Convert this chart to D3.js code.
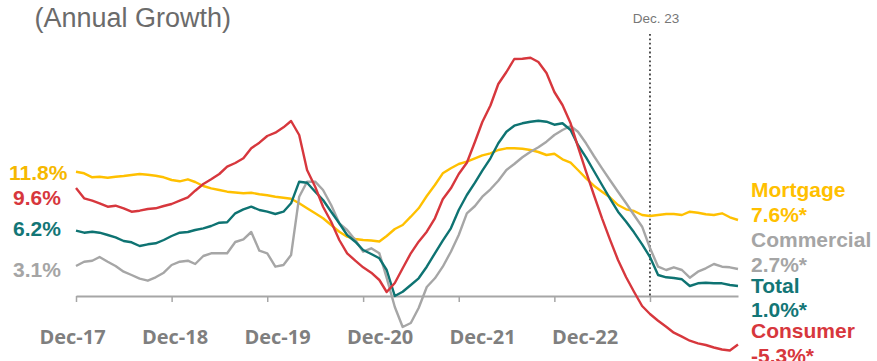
<!DOCTYPE html>
<html>
<head>
<meta charset="utf-8">
<script src="https://cdn.jsdelivr.net/npm/d3@7"></script>
<style>
  body { margin: 0; background: #fff; }
  svg { display: block; }
</style>
</head>
<body>
<svg id="chart" width="877" height="361"></svg>
<script>
// monthly readings, Dec-17 .. Nov-24 (annual growth, %)
var mortgage = [12.43,12.27,11.87,11.93,11.83,11.93,12.0,12.1,12.2,12.13,
  12.03,11.87,11.6,11.47,11.67,11.4,11.0,10.77,10.6,10.43,
  10.35,10.27,10.33,10.17,10.07,9.93,9.83,9.73,9.27,8.77,
  8.27,7.77,7.1,6.43,5.93,5.7,5.6,5.55,5.45,6.0,
  6.7,7.1,7.93,8.77,10.0,11.1,12.27,12.77,13.2,13.43,
  13.77,14.07,14.27,14.6,14.77,14.77,14.73,14.6,14.4,14.1,
  14.23,13.67,13.33,12.6,11.77,11.03,10.43,9.87,9.1,8.67,
  8.5,8.1,8.0,8.1,8.2,8.2,8.1,8.43,8.33,8.17,
  8.1,8.27,7.87,7.6];
var consumer = [10.8,9.77,9.53,9.27,8.93,9.03,8.77,8.43,8.53,8.7,
  8.77,9.0,9.2,9.53,9.87,10.53,11.2,11.67,12.2,12.93,
  13.3,13.77,14.77,15.33,16.0,16.33,16.87,17.5,16.1,12.6,
  10.93,8.93,7.43,5.6,4.27,3.53,2.87,2.33,1.6,0.4,
  1.3,2.77,4.27,5.43,6.43,7.77,9.67,10.77,12.2,13.33,
  15.43,17.4,19.05,21.2,22.4,23.7,23.73,23.83,23.4,22.3,
  20.4,19.1,17.27,14.93,12.43,10.1,7.77,5.67,3.6,1.87,
  0.43,-1.0,-1.8,-2.47,-3.07,-3.67,-4.07,-4.47,-4.73,-4.9,
  -5.15,-5.35,-5.45,-4.85];
var total = [6.53,6.33,6.43,6.33,6.1,5.87,5.5,5.37,5.0,5.17,
  5.27,5.6,6.0,6.33,6.4,6.6,6.77,7.0,7.33,7.37,
  8.27,8.67,8.93,8.6,8.43,8.2,8.43,9.27,11.43,11.33,
  10.43,9.6,8.43,7.27,6.1,5.43,4.6,4.2,3.77,2.6,
  0.0,0.43,1.1,1.77,2.93,4.27,5.53,6.77,8.6,10.1,
  11.33,12.53,13.77,15.27,16.43,17.03,17.27,17.43,17.53,17.43,
  17.13,17.27,16.6,15.1,13.87,12.5,11.1,9.77,8.43,7.43,
  6.37,5.17,3.9,2.1,1.87,1.8,1.67,1.0,1.27,1.33,
  1.27,1.27,1.1,1.0];
var commercial = [3.0,3.43,3.53,3.9,3.43,3.0,2.43,2.1,1.73,1.53,
  1.87,2.33,3.1,3.43,3.53,3.2,4.0,4.27,4.27,4.27,
  5.4,5.67,6.4,4.53,4.27,2.93,3.1,4.1,9.93,11.43,
  11.43,10.6,9.1,7.27,6.6,5.6,4.43,4.77,4.27,1.8,
  -1.1,-3.1,-2.7,-1.2,0.9,1.77,2.93,4.43,6.1,8.27,
  9.0,9.93,10.67,11.53,12.6,13.2,13.87,14.43,14.87,15.43,
  16.1,16.6,17.0,16.43,15.27,14.0,12.77,11.6,10.43,9.27,
  8.1,6.93,4.8,2.93,2.6,2.87,2.6,1.83,2.43,2.77,
  3.2,2.93,2.87,2.7];

var xLabels = ["Dec-17", "Dec-18", "Dec-19", "Dec-20", "Dec-21", "Dec-22"];
var startLabels = ["11.8%", "9.6%", "6.2%", "3.1%"];
var endNames = ["Mortgage", "Commercial", "Total", "Consumer"];
var endValues = ["7.6%*", "2.7%*", "1.0%*", "-5.3%*"];

var months = d3.range(mortgage.length).map(function (i) { return new Date(2017, 11 + i, 1); });

var svg = d3.select("#chart");

var x = d3.scaleTime()
    .domain([new Date(2017, 11, 1), new Date(2024, 10, 1)])
    .range([76, 738]);
var y = d3.scaleLinear().domain([-6, 24]).range([356, 56]);

// axis with Dec ticks
var decTicks = d3.range(7).map(function (k) { return new Date(2017 + k, 11, 1); });
var axis = svg.append("g")
    .attr("transform", "translate(0," + y(0) + ")")
    .call(d3.axisBottom(x).tickValues(decTicks).tickFormat("").tickSize(6).tickSizeOuter(0));
axis.select(".domain").attr("stroke", "#a6a6a6").attr("stroke-width", 2);
axis.selectAll(".tick line").attr("stroke", "#a6a6a6").attr("stroke-width", 1.5);

// x labels sit on their own spacing in the original
var xl = d3.scalePoint().domain(xLabels).range([72.5, 585]);
svg.append("g").selectAll("text")
    .data(xLabels)
    .enter().append("text")
    .attr("x", function (d) { return xl(d); })
    .attr("y", 344)
    .attr("text-anchor", "middle")
    .style("font-family", "'Open Sans', sans-serif")
    .style("font-weight", "bold")
    .style("font-size", "20px")
    .style("fill", "#7f7f7f")
    .text(function (d) { return d; });

// Dec. 23 marker
var dec23 = x(new Date(2023, 11, 1));
svg.append("line")
    .attr("x1", dec23).attr("x2", dec23)
    .attr("y1", 34).attr("y2", y(0))
    .attr("stroke", "#404040")
    .attr("stroke-width", 1.8)
    .attr("stroke-dasharray", "1.8,2.6");
svg.append("text")
    .attr("x", dec23 + 6).attr("y", 23)
    .attr("text-anchor", "middle")
    .style("font-family", "'Liberation Sans', Arial, sans-serif")
    .style("font-size", "13.5px")
    .style("fill", "#777")
    .text("Dec. 23");

// title
svg.append("text")
    .attr("x", 231).attr("y", 27)
    .attr("text-anchor", "end")
    .style("font-family", "'Liberation Sans', Arial, sans-serif")
    .style("font-size", "27px")
    .style("fill", "#6b6b6b")
    .text("(Annual Growth)");

var series = [
    { name: "mortgage", values: mortgage, color: "#FFC000" },
    { name: "commercial", values: commercial, color: "#A6A6A6" },
    { name: "total", values: total, color: "#0E7372" },
    { name: "consumer", values: consumer, color: "#D7373D" }
];

var line = d3.line()
    .x(function (d, i) { return x(months[i]); })
    .y(function (d) { return y(d); });

svg.append("g").selectAll("path")
    .data(series)
    .enter().append("path")
    .attr("d", function (d) { return line(d.values); })
    .attr("fill", "none")
    .attr("stroke", function (d) { return d.color; })
    .attr("stroke-width", 2.4)
    .attr("stroke-linejoin", "round");

// left start labels
var leftColors = ["#F5B800", "#D7373D", "#137676", "#A5A5A5"];
var leftX = [9, 13, 13, 13];
var leftY = [180, 205, 236, 277];
svg.append("g").selectAll("text")
    .data(startLabels)
    .enter().append("text")
    .attr("x", function (d, i) { return leftX[i]; })
    .attr("y", function (d, i) { return leftY[i]; })
    .style("font-family", "'Liberation Sans', Arial, sans-serif")
    .style("font-weight", "bold")
    .style("font-size", "21px")
    .style("fill", function (d, i) { return leftColors[i]; })
    .text(function (d) { return d; });

// right end labels
var rightColors = ["#FFC000", "#A5A5A5", "#137676", "#D7373D"];
var nameY = [197, 247, 293, 338];
var valY = [222, 272, 317, 363];
var right = svg.append("g")
    .style("font-family", "'Liberation Sans', Arial, sans-serif")
    .style("font-weight", "bold")
    .style("font-size", "21px");
right.selectAll(".nm")
    .data(endNames)
    .enter().append("text")
    .attr("class", "nm")
    .attr("x", 751)
    .attr("y", function (d, i) { return nameY[i]; })
    .style("fill", function (d, i) { return rightColors[i]; })
    .text(function (d) { return d; });
right.selectAll(".vl")
    .data(endValues)
    .enter().append("text")
    .attr("class", "vl")
    .attr("x", 751)
    .attr("y", function (d, i) { return valY[i]; })
    .style("fill", function (d, i) { return rightColors[i]; })
    .text(function (d) { return d; });
</script>
</body>
</html>
